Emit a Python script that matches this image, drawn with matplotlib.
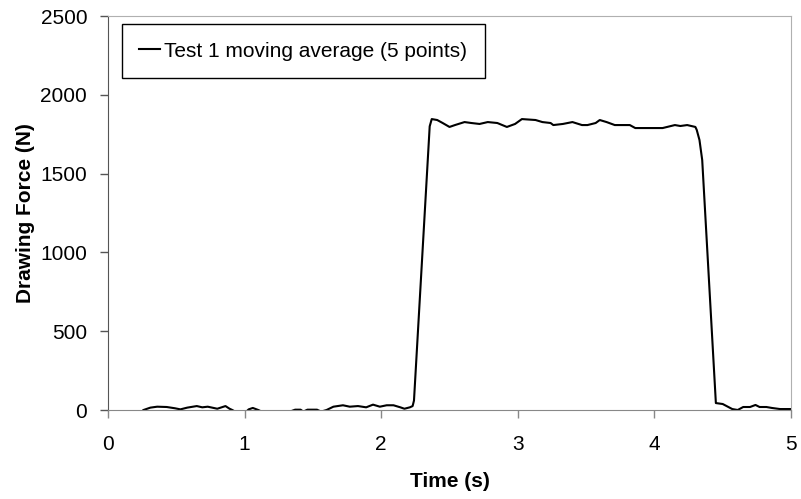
import numpy as np
import matplotlib.pyplot as plt

# time (s) and drawing force (N), 5-point moving average
# negative values sit below the axis and are clipped (gaps in the trace)
time = [0.26, 0.31, 0.36, 0.43, 0.49, 0.53, 0.58, 0.65, 0.69, 0.73, 0.80, 0.86, 0.89, 0.91,
        0.95, 1.00, 1.03, 1.06, 1.10, 1.15, 1.30, 1.37, 1.41, 1.43, 1.46, 1.53, 1.56,
        1.60, 1.65, 1.72, 1.77, 1.83, 1.89, 1.94, 1.99, 2.04, 2.09, 2.14, 2.17, 2.21, 2.23,
        2.24, 2.355, 2.37, 2.41, 2.45, 2.50, 2.54, 2.61, 2.66, 2.72, 2.78, 2.85, 2.92,
        2.98, 3.03, 3.13, 3.18, 3.24, 3.26, 3.33, 3.40, 3.47, 3.51, 3.57, 3.60, 3.65, 3.71,
        3.82, 3.86, 3.95, 4.06, 4.15, 4.19, 4.24, 4.30, 4.31, 4.33, 4.35, 4.45, 4.50, 4.57,
        4.61, 4.65, 4.70, 4.74, 4.77, 4.82, 4.86, 4.92, 5.00]
force = [0, 15, 21, 19, 11, 4, 15, 25, 17, 21, 8, 25, 8, 0,
         -20, -20, 4, 13, 0, -20, -20, 2, 2, -10, 2, 2, -10,
         0, 21, 30, 21, 25, 17, 34, 21, 30, 30, 17, 8, 17, 25,
         60, 1800, 1846, 1840, 1821, 1796, 1808, 1827, 1821, 1815, 1827, 1821, 1796,
         1815, 1846, 1840, 1827, 1821, 1808, 1815, 1827, 1808, 1808, 1821, 1840, 1827, 1808,
         1808, 1789, 1789, 1789, 1808, 1802, 1808, 1796, 1777, 1713, 1586, 44, 38, 6,
         0, 19, 19, 32, 19, 19, 13, 6, 6]

x_ticks = [0, 1, 2, 3, 4, 5]
y_ticks = [0, 500, 1000, 1500, 2000, 2500]

plt.rcParams['font.family'] = ['Liberation Sans', 'DejaVu Sans']

fig = plt.figure(figsize=(8.01, 4.99), dpi=100)
ax = fig.add_axes([108 / 801, 1 - 410 / 499, (791 - 108) / 801, (410 - 16) / 499])

ax.plot(time, force, color='black', lw=1.5, label='Test 1 moving average (5 points)')

ax.set_xlim(0, 5)
ax.set_ylim(0, 2500)
ax.set_xticks(x_ticks)
ax.set_yticks(y_ticks)
ax.tick_params(labelsize=15, direction='out', length=6, width=1)
ax.tick_params(axis='y', colors='#555555', labelcolor='black', pad=9)
ax.tick_params(axis='x', colors='#888888', labelcolor='black', pad=12)

ax.spines['left'].set_color('#555555')
ax.spines['bottom'].set_color('#888888')
ax.spines['top'].set_color('#b0b0b0')
ax.spines['right'].set_color('#b0b0b0')

ax.set_xlabel('Time (s)', fontsize=15, fontweight='bold', labelpad=13)
ax.set_ylabel('Drawing Force (N)', fontsize=15, fontweight='bold', labelpad=4)

leg = ax.legend(loc='upper left', bbox_to_anchor=(0.02, 0.98), fontsize=15,
                frameon=True, fancybox=False, edgecolor='black', framealpha=1,
                handlelength=1.0, handletextpad=0.2, borderpad=0.85, borderaxespad=0)
leg.get_frame().set_linewidth(1)

fig.savefig('out.png', dpi=100)
